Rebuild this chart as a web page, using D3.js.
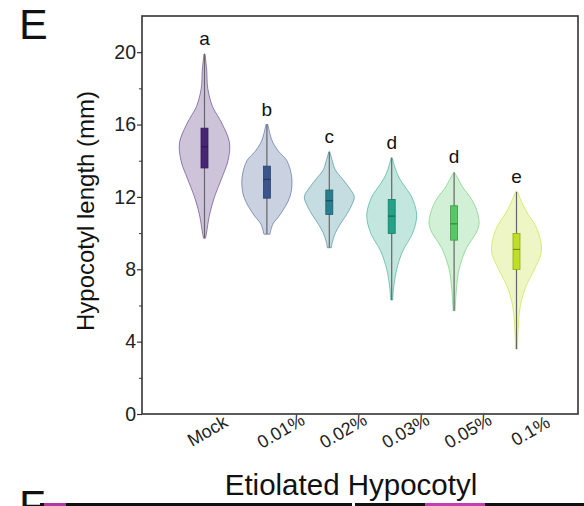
<!DOCTYPE html>
<html>
<head>
<meta charset="utf-8">
<script src="https://cdn.jsdelivr.net/npm/d3@7"></script>
<style>
  body { margin: 0; background: #fff; }
  text { font-family: "Liberation Sans", Arial, sans-serif; }
</style>
</head>
<body>
<script>
// Data
const groups = ['Mock', '0.01%', '0.02%', '0.03%', '0.05%', '0.1%']
const letters = ['a', 'b', 'c', 'd', 'd', 'e']
const mins = [9.72, 9.94, 9.19, 6.3, 5.71, 3.59]
const maxs = [19.9, 16.0, 14.49, 14.16, 13.35, 12.28]
const q1s = [13.6, 11.93, 11.03, 9.98, 9.61, 7.99]
const medians = [14.77, 12.97, 11.79, 10.94, 10.51, 9.1]
const q3s = [15.8, 13.7, 12.38, 11.86, 11.51, 9.98]

// violin outline: sample values and relative density at each one
const densityValues = [
  [19.9, 19, 18, 17, 16.5, 16, 15, 14, 13, 12, 11, 10, 9.72],
  [16, 15.5, 15, 14.5, 14, 13, 12, 11, 10.5, 9.94],
  [14.49, 14, 13.5, 13, 12.5, 12, 11.5, 11, 10.5, 10, 9.5, 9.19],
  [14.16, 13.5, 13, 12.5, 12, 11, 10, 9, 8, 7, 6.3],
  [13.35, 13, 12.5, 12, 11.5, 11, 10.5, 10, 9.5, 9, 8, 7, 5.71],
  [12.28, 12, 11.5, 11, 10.5, 10, 9, 8, 7, 6, 5, 3.59]
]
const densities = [
  [0.02, 0.09, 0.13, 0.32, 0.52, 0.72, 1.0, 0.94, 0.68, 0.4, 0.2, 0.08, 0.04],
  [0.04, 0.12, 0.24, 0.48, 0.8, 1.0, 0.92, 0.52, 0.24, 0.12],
  [0.02, 0.12, 0.24, 0.52, 0.8, 1.0, 0.88, 0.68, 0.44, 0.24, 0.12, 0.08],
  [0.02, 0.16, 0.32, 0.56, 0.8, 1.0, 0.84, 0.44, 0.2, 0.08, 0.04],
  [0.02, 0.16, 0.36, 0.64, 0.84, 0.96, 1.0, 0.88, 0.64, 0.44, 0.2, 0.1, 0.04],
  [0.04, 0.12, 0.28, 0.48, 0.72, 0.88, 1.0, 0.72, 0.36, 0.16, 0.08, 0.04]
]
const yTicks = [0, 4, 8, 12, 16, 20]
const yMinorTicks = [2, 6, 10, 14, 18]

// Layout
const width = 584
const height = 506
const frame = { left: 142, right: 578, top: 16, bottom: 414 }

const svg = d3.select('body')
  .append('svg')
  .attr('width', width)
  .attr('height', height)

const x = d3.scalePoint()
  .domain(groups)
  .range([204.5, 516.5])

const y = d3.scaleLinear()
  .domain([0, 22])
  .range([frame.bottom, frame.top])

const w = d3.scaleLinear()
  .domain([0, 1])
  .range([0, 25])

const color = (i) => d3.interpolateViridis(0.1 + i * 0.16)

// violins
groups.forEach((g, i) => {
  const cx = x(g)
  const pts = densityValues[i].map((v, j) => ({ v: v, d: densities[i][j] }))
  const area = d3.area()
    .y(d => y(d.v))
    .x0(d => cx - w(d.d))
    .x1(d => cx + w(d.d))
    .curve(d3.curveCatmullRom)

  const c = color(i)
  svg.append('path')
    .datum(pts)
    .attr('d', area)
    .attr('fill', c)
    .attr('fill-opacity', 0.27)
    .attr('stroke', c)
    .attr('stroke-opacity', 0.55)
    .attr('stroke-width', 1)

  // whisker
  svg.append('line')
    .attr('x1', cx).attr('x2', cx)
    .attr('y1', y(mins[i])).attr('y2', y(maxs[i]))
    .attr('stroke', '#666')
    .attr('stroke-width', 1.2)

  // box
  svg.append('rect')
    .attr('x', cx - 3.5)
    .attr('width', 7)
    .attr('y', y(q3s[i]))
    .attr('height', y(q1s[i]) - y(q3s[i]))
    .attr('fill', c)
    .attr('stroke', d3.color(c).darker(0.8))
    .attr('stroke-width', 0.8)

  svg.append('line')
    .attr('x1', cx - 3.5).attr('x2', cx + 3.5)
    .attr('y1', y(medians[i])).attr('y2', y(medians[i]))
    .attr('stroke', d3.color(c).darker(1.5))
    .attr('stroke-width', 1)

  // significance letter
  svg.append('text')
    .attr('x', cx)
    .attr('y', y(maxs[i]) - 9)
    .attr('text-anchor', 'middle')
    .style('font-size', '19px')
    .attr('fill', '#111')
    .text(letters[i])
})

// frame
svg.append('rect')
  .attr('x', frame.left)
  .attr('y', frame.top)
  .attr('width', frame.right - frame.left)
  .attr('height', frame.bottom - frame.top)
  .attr('fill', 'none')
  .attr('stroke', '#333')
  .attr('stroke-width', 1.6)

// y axis
const yAxis = svg.append('g')
  .attr('transform', `translate(${frame.left},0)`)
  .call(d3.axisLeft(y).tickValues(yTicks).tickSize(5).tickPadding(1))
yAxis.select('.domain').remove()
yAxis.selectAll('line').attr('stroke', '#333').attr('stroke-width', 1.2)
yAxis.selectAll('text')
  .style('font-size', '19.5px')
  .style('font-family', '"Liberation Sans", Arial, sans-serif')
  .attr('fill', '#222')

const yMinor = svg.append('g')
  .attr('transform', `translate(${frame.left},0)`)
  .call(d3.axisLeft(y).tickValues(yMinorTicks).tickSize(3).tickFormat(''))
yMinor.select('.domain').remove()
yMinor.selectAll('line').attr('stroke', '#333').attr('stroke-width', 1)

// x labels, rotated
svg.append('g')
  .selectAll('text')
  .data(groups)
  .join('text')
  .attr('transform', (d, i) => `translate(${x(d) + (i === 0 ? 3 : 14)},431) rotate(-30)`)
  .attr('text-anchor', 'middle')
  .attr('dominant-baseline', 'central')
  .style('font-size', '18px')
  .attr('fill', '#222')
  .text(d => d)

// y title
svg.append('text')
  .attr('transform', 'translate(85,211) rotate(-90)')
  .attr('text-anchor', 'middle')
  .attr('dominant-baseline', 'central')
  .style('font-size', '24px')
  .attr('fill', '#111')
  .text('Hypocotyl length (mm)')

// panel letter
svg.append('text')
  .attr('x', 19)
  .attr('y', 39)
  .style('font-size', '43px')
  .attr('fill', '#111')
  .text('E')

// start of the next panel, cut off by the crop
svg.append('text')
  .attr('x', 351)
  .attr('y', 495)
  .attr('text-anchor', 'middle')
  .style('font-size', '29.5px')
  .attr('fill', '#111')
  .text('Etiolated Hypocotyl')

svg.append('text')
  .attr('x', 19)
  .attr('y', 520)
  .style('font-size', '43px')
  .attr('fill', '#111')
  .text('F')

svg.append('rect').attr('x', 40).attr('y', 503).attr('width', 312).attr('height', 3).attr('fill', '#111')
svg.append('rect').attr('x', 355).attr('y', 503).attr('width', 229).attr('height', 3).attr('fill', '#111')
svg.append('rect').attr('x', 44).attr('y', 503).attr('width', 22).attr('height', 3).attr('fill', '#b03aa0')
svg.append('rect').attr('x', 425).attr('y', 503).attr('width', 60).attr('height', 3).attr('fill', '#c040b0')
</script>
</body>
</html>
